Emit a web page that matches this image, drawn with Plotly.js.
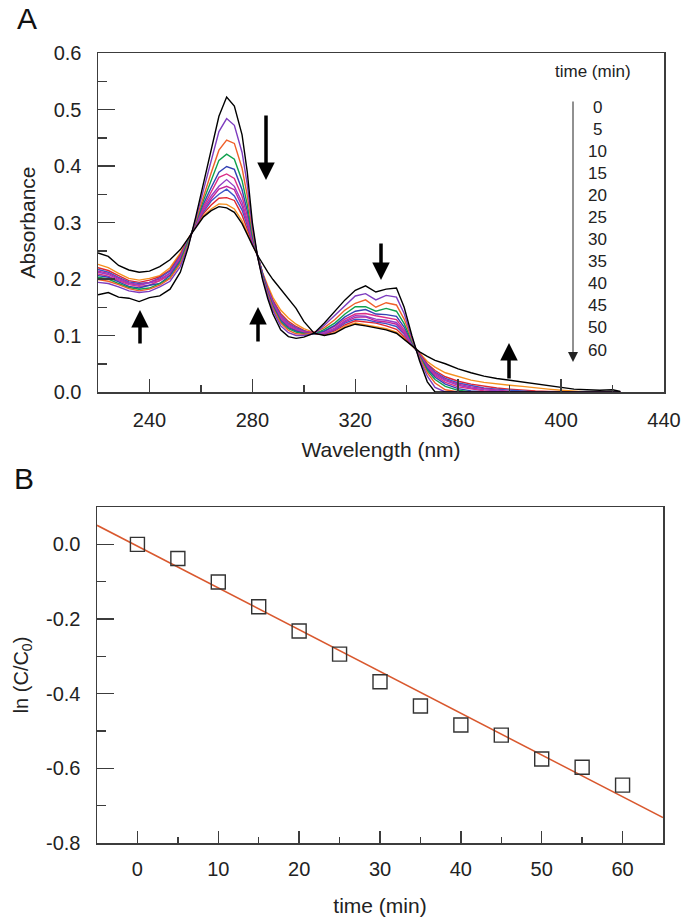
<!DOCTYPE html>
<html>
<head>
<meta charset="utf-8">
<script src="https://cdn.plot.ly/plotly-3.0.1.min.js"></script>
<style>html,body{margin:0;padding:0;background:#fff;}#chart{width:685px;height:920px;}</style>
</head>
<body>
<div id="chart"></div>
<script>
// ---------- Panel A: UV-Vis spectra ----------
const wavelength = [220,224,228,232,236,240,244,248,252,255,258,261,264,267,270,273,276,278,280,282,284,286,288,291,294,297,300,304,308,312,316,320,324,328,332,336,339,342,345,348,351,355,360,365,370,375,380,385,390,395,400,405,410,415,420,423];

const spectrumTimes = [0,5,10,15,20,25,30,35,40,45,50,60];

const abs00 = [0.172,0.176,0.168,0.166,0.160,0.167,0.170,0.182,0.212,
 0.255,0.310,0.370,0.428,0.488,0.522,0.506,0.455,
 0.390,0.300,0.240,0.198,0.165,0.138,
 0.110,0.098,0.095,0.097,
 0.104,0.122,0.142,0.163,0.180,0.188,0.177,0.182,0.184,
 0.150,0.100,0.055,0.018,0.000,
 0.000,
 0,0,0,0,0,0,0,0,0,0,0,0,0,
 0];
const abs05 = [0.194,0.192,0.186,0.179,0.176,0.178,0.186,0.196,0.222,
 0.258,0.306,0.358,0.407,0.461,0.484,0.472,0.424,
 0.368,0.292,0.240,0.201,0.170,0.144,
 0.117,0.105,0.100,0.100,
 0.103,0.118,0.135,0.153,0.170,0.174,0.163,0.171,0.168,
 0.139,0.096,0.058,0.028,0.008,
 0.000,
 0,0,0,0,0,0,0,0,0,0,0,0,0,
 0];
const abs10 = [0.199,0.196,0.190,0.183,0.179,0.182,0.189,0.201,0.227,
 0.261,0.303,0.347,0.388,0.428,0.446,0.440,0.396,
 0.348,0.285,0.241,0.202,0.173,0.148,
 0.122,0.109,0.103,0.102,
 0.105,0.114,0.128,0.145,0.157,0.163,0.150,0.158,0.154,
 0.129,0.093,0.061,0.034,0.016,
 0.004,
 0,0,0,0,0,0,0,0,0,0,0,0,0,
 0];
const abs15 = [0.203,0.200,0.192,0.185,0.182,0.184,0.192,0.202,0.230,
 0.264,0.301,0.339,0.373,0.410,0.421,0.412,0.374,
 0.332,0.279,0.241,0.204,0.174,0.150,
 0.124,0.112,0.106,0.103,
 0.102,0.111,0.122,0.138,0.151,0.151,0.143,0.148,0.143,
 0.121,0.090,0.062,0.038,0.022,
 0.010,
 0.003,0,0,0,0,0,0,0,0,0,0,0,0,
 0];
const abs20 = [0.206,0.203,0.195,0.187,0.184,0.189,0.192,0.206,0.233,
 0.266,0.299,0.333,0.362,0.389,0.399,0.394,0.358,
 0.321,0.275,0.241,0.205,0.176,0.153,
 0.127,0.114,0.108,0.104,
 0.104,0.108,0.118,0.133,0.143,0.146,0.138,0.137,0.134,
 0.115,0.088,0.064,0.041,0.026,
 0.014,
 0.006,0.002,0,0,0,0,0,0,0,0,0,0,0,
 0];
const abs25 = [0.209,0.205,0.197,0.190,0.187,0.189,0.197,0.207,0.236,
 0.267,0.297,0.328,0.354,0.380,0.386,0.378,0.346,
 0.312,0.272,0.241,0.206,0.178,0.154,
 0.129,0.116,0.109,0.105,
 0.106,0.107,0.116,0.129,0.138,0.139,0.135,0.132,0.128,
 0.110,0.087,0.065,0.043,0.029,
 0.017,
 0.009,0.005,0.002,0,0,0,0,0,0,0,0,0,0,
 0];
const abs30 = [0.212,0.208,0.199,0.192,0.189,0.193,0.197,0.211,0.238,
 0.268,0.296,0.325,0.347,0.364,0.376,0.364,0.336,
 0.305,0.270,0.242,0.206,0.179,0.156,
 0.132,0.118,0.111,0.106,
 0.103,0.105,0.113,0.126,0.135,0.134,0.129,0.127,0.123,
 0.107,0.086,0.066,0.045,0.031,
 0.020,
 0.012,0.007,0.004,0.002,0,0,0,0,0,0,0,0,0,
 0];
const abs35 = [0.214,0.210,0.201,0.193,0.190,0.194,0.200,0.210,0.239,
 0.269,0.296,0.322,0.342,0.359,0.364,0.358,0.329,
 0.300,0.268,0.242,0.207,0.181,0.158,
 0.134,0.120,0.112,0.107,
 0.105,0.104,0.111,0.124,0.132,0.133,0.126,0.124,0.120,
 0.104,0.085,0.066,0.046,0.033,
 0.022,
 0.014,0.009,0.006,0.003,0.001,0,0,0,0,0,0,0,0,
 0];
const abs40 = [0.217,0.212,0.203,0.195,0.192,0.194,0.202,0.214,0.241,
 0.269,0.295,0.319,0.338,0.350,0.359,0.347,0.322,
 0.295,0.266,0.242,0.208,0.182,0.160,
 0.136,0.122,0.114,0.108,
 0.104,0.103,0.110,0.122,0.129,0.128,0.124,0.121,0.116,
 0.102,0.084,0.067,0.048,0.035,
 0.024,
 0.016,0.011,0.007,0.005,0.003,0.001,0,0,0,0,0,0,0,
 0];
const abs45 = [0.220,0.215,0.206,0.197,0.194,0.198,0.204,0.216,0.243,
 0.270,0.294,0.316,0.331,0.343,0.344,0.339,0.313,
 0.288,0.264,0.242,0.209,0.184,0.162,
 0.139,0.125,0.116,0.109,
 0.102,0.102,0.108,0.119,0.126,0.124,0.122,0.117,0.111,
 0.098,0.083,0.068,0.050,0.038,
 0.027,
 0.019,0.014,0.010,0.007,0.005,0.003,0.002,0.001,0,0,0,0,0,
 0];
const abs50 = [0.226,0.220,0.210,0.201,0.198,0.201,0.206,0.220,0.246,
 0.271,0.293,0.312,0.324,0.333,0.332,0.324,0.303,
 0.281,0.261,0.242,0.211,0.188,0.167,
 0.145,0.131,0.120,0.112,
 0.105,0.101,0.105,0.116,0.122,0.119,0.116,0.112,0.106,
 0.095,0.082,0.069,0.054,0.044,
 0.034,
 0.027,0.021,0.017,0.014,0.012,0.010,0.007,0.005,0.003,0.001,0,0,0,
 0];
const abs60 = [0.246,0.240,0.224,0.216,0.212,0.214,0.222,0.234,0.252,
 0.272,0.292,0.310,0.321,0.328,0.326,0.318,0.298,
 0.278,0.260,0.242,0.226,0.212,0.199,
 0.182,0.166,0.148,0.125,
 0.104,0.100,0.104,0.114,0.120,0.117,0.114,0.110,0.104,
 0.093,0.081,0.071,0.063,0.056,
 0.050,
 0.041,0.034,0.028,0.024,0.021,0.018,0.015,0.012,0.009,0.005,0.004,0.003,0.004,
 0.001];

const spectra = [abs00,abs05,abs10,abs15,abs20,abs25,abs30,abs35,abs40,abs45,abs50,abs60];
const spectrumColors = ['#000000','#7d3cbf','#f0602a','#10a04e','#3442b4','#db2c86','#9440c6','#c4249a','#3d55c8','#e02630','#f5901e','#000000'];

const legendTitle = 'time (min)';
const legendLabels = ['0','5','10','15','20','25','30','35','40','45','50','60'];

// ---------- Panel B: kinetics ----------
const kinTime = [0,5,10,15,20,25,30,35,40,45,50,55,60];
const lnRatio = [0.000,-0.038,-0.101,-0.167,-0.232,-0.294,-0.368,-0.433,-0.484,-0.511,-0.575,-0.597,-0.645];
const fitTime = [-5,65];
const fitLn = [0.051,-0.732];
const yTickValsB = [0,-0.2,-0.4,-0.6,-0.8];
const yTickTextB = ['0.0','-0.2','-0.4','-0.6','-0.8'];

// ---------- build ----------
const W = 685, H = 920;
const fx = p => p / W;
const fy = p => 1 - p / H;
const axisCol = '#3c3c3c';
const FONT = '"Liberation Sans", Arial, Helvetica, sans-serif';

const traces = [];
const order = [10,9,8,7,6,5,4,3,2,1,11,0];
order.forEach(i => {
  traces.push({
    type:'scatter', mode:'lines', x: wavelength, y: spectra[i],
    line:{color: spectrumColors[i], width: 1.4},
    xaxis:'x', yaxis:'y', hoverinfo:'skip', name: spectrumTimes[i] + ' min'
  });
});
traces.push({
  type:'scatter', mode:'lines', x: fitTime, y: fitLn,
  line:{color:'#d9582e', width:1.5}, xaxis:'x2', yaxis:'y2', hoverinfo:'skip'
});
traces.push({
  type:'scatter', mode:'markers', x: kinTime, y: lnRatio,
  marker:{symbol:'square-open', size:14, color:'#333', line:{width:1.4, color:'#333'}},
  xaxis:'x2', yaxis:'y2', hoverinfo:'skip'
});

function axisCommon() {
  return {
    ticks:'inside', tickwidth:1.5, tickcolor:axisCol,
    showline:true, mirror:true, linecolor:axisCol, linewidth:1.5,
    showgrid:false, zeroline:false,
    tickfont:{size:20, color:'#222', family:FONT}
  };
}

const annotations = [];
annotations.push({xref:'paper', yref:'paper', x:fx(27), y:fy(18), text:'A', showarrow:false, font:{size:30, family:FONT, color:'#111'}, xanchor:'center', yanchor:'middle'});
annotations.push({xref:'paper', yref:'paper', x:fx(24), y:fy(478), text:'B', showarrow:false, font:{size:30, family:FONT, color:'#111'}, xanchor:'center', yanchor:'middle'});
annotations.push({xref:'paper', yref:'paper', x:fx(593), y:fy(71), text:legendTitle, showarrow:false, font:{size:17, family:FONT, color:'#222'}, xanchor:'center', yanchor:'middle'});
legendLabels.forEach((lab, i) => {
  annotations.push({xref:'paper', yref:'paper', x:fx(597), y:fy(107 + 22.1*i), text:lab, showarrow:false, font:{size:17, family:FONT, color:'#222'}, xanchor:'center', yanchor:'middle'});
});
annotations.push({xref:'paper', yref:'paper', x:fx(573), y:fy(362), ax:0, ay:-262, text:'', showarrow:true, arrowhead:2, arrowsize:2, arrowwidth:1, arrowcolor:'#222', standoff:0});
const arrowSpecs = [[266,180,-66],[140,310,35],[258,307,36],[381,280,-38],[509,343,37]];
arrowSpecs.forEach(a => {
  annotations.push({xref:'paper', yref:'paper', x:fx(a[0]), y:fy(a[1]), ax:0, ay:a[2], text:'', showarrow:true, arrowhead:2, arrowsize:1, arrowwidth:3.5, arrowcolor:'#000', standoff:0});
});

const layout = {
  width:W, height:H, margin:{l:0, r:0, t:0, b:0},
  paper_bgcolor:'#fff', plot_bgcolor:'#fff', showlegend:false,
  font:{family:FONT, size:20, color:'#222'},
  xaxis: Object.assign(axisCommon(), {
    domain:[fx(98), fx(664)], anchor:'y', range:[220,440], tickmode:'linear', tick0:240, dtick:40, ticklen:13,
    ticklabelstandoff:9,
    minor:{ticks:'inside', tickmode:'linear', tick0:220, dtick:40, ticklen:7, tickwidth:1.5, tickcolor:axisCol, showgrid:false},
    title:{text:'Wavelength (nm)', font:{size:21, family:FONT, color:'#222'}, standoff:13}
  }),
  yaxis: Object.assign(axisCommon(), {
    domain:[fy(392), fy(53)], anchor:'x', range:[0,0.6], tickmode:'linear', tick0:0, dtick:0.1, tickformat:'.1f', ticklen:17,
    ticklabelstandoff:11,
    minor:{ticks:'inside', tickmode:'linear', tick0:0.05, dtick:0.1, ticklen:9, tickwidth:1.5, tickcolor:axisCol, showgrid:false},
    title:{text:'Absorbance', font:{size:21, family:FONT, color:'#222'}, standoff:12}
  }),
  xaxis2: Object.assign(axisCommon(), {
    domain:[fx(97), fx(663)], anchor:'y2', range:[-5,65], tickmode:'linear', tick0:0, dtick:10, ticklen:12,
    ticklabelstandoff:7,
    minor:{ticks:'inside', tickmode:'linear', tick0:5, dtick:10, ticklen:6, tickwidth:1.5, tickcolor:axisCol, showgrid:false},
    title:{text:'time (min)', font:{size:21, family:FONT, color:'#222'}, standoff:20}
  }),
  yaxis2: Object.assign(axisCommon(), {
    domain:[fy(843), fy(507)], anchor:'x2', range:[-0.8,0.1], tickmode:'array', tickvals:yTickValsB, ticktext:yTickTextB, ticklen:17,
    ticklabelstandoff:11,
    minor:{ticks:'inside', tickmode:'linear', tick0:-0.7, dtick:0.2, ticklen:9, tickwidth:1.5, tickcolor:axisCol, showgrid:false},
    title:{text:'ln (C/C<sub>0</sub>)', font:{size:20, family:FONT, color:'#222'}, standoff:12}
  }),
  annotations: annotations
};

Plotly.newPlot('chart', traces, layout, {staticPlot:true, displayModeBar:false});
</script>
</body>
</html>
